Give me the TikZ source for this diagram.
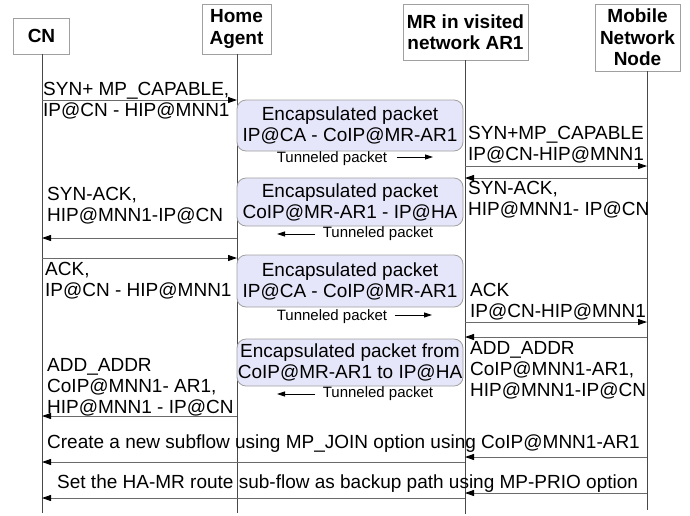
\documentclass[tikz,border=0pt]{standalone}
\usepackage{fontspec}
\setmainfont{Liberation Sans}
\usetikzlibrary{arrows.meta}
\definecolor{boxfill}{HTML}{E6E6FA}
\definecolor{lifegray}{HTML}{484848}
\definecolor{msggray}{HTML}{6A6A6A}
\definecolor{bordergray}{HTML}{A0A0A0}
\tikzset{
 hdr/.style={draw=bordergray, line width=0.8pt, fill=white, font=\fontsize{19}{21.5}\selectfont\bfseries, align=center, inner sep=0pt},
 life/.style={draw=lifegray, line width=1pt},
 msg/.style={draw=msggray, line width=0.9pt, -{Triangle[length=9pt,width=6pt,color=black]}},
 lbl/.style={font=\fontsize{19}{21}\selectfont, align=left, anchor=west, inner sep=0pt, yshift=-1.5pt},
 tunnel/.style={draw=bordergray, line width=0.8pt, fill=boxfill, rounded corners=9pt, minimum width=226pt, align=center, font=\fontsize{19}{21}\selectfont, inner sep=0pt},
 tlbl/.style={font=\fontsize{15}{17}\selectfont, inner sep=0pt},
 tarrow/.style={draw=black, line width=0.8pt, -{Triangle[length=8pt,width=5pt]}},
}
\begin{document}
\begin{tikzpicture}[x=1pt,y=-1pt]
\useasboundingbox (0,0) rectangle (690,515);
% headers
\node[hdr, minimum width=56pt, minimum height=36pt] (cn) at (41.5,36) {CN};
\node[hdr, minimum width=69pt, minimum height=50pt] (ha) at (236.5,29) {Home\\Agent};
\node[hdr, minimum width=125pt, minimum height=56pt] (mr) at (465.5,32) {MR in visited\\network AR1};
\node[hdr, minimum width=85pt, minimum height=67pt] (mn) at (637.5,37.5) {Mobile\\Network\\Node};
% lifelines
\coordinate (cnE) at (42,513);
\coordinate (haE) at (237,513);
\coordinate (mrE) at (465,514);
\coordinate (mnE) at (647,510);
\draw[life] (cn.south -| cnE) -- (cnE);
\draw[life] (ha.south -| haE) -- (haE);
\draw[life] (mr.south -| mrE) -- (mrE);
\draw[life] (mn.south -| mnE) -- (mnE);
% message 1
\coordinate (a1) at (42,100); \coordinate (b1) at (237,100);
\draw[msg] (a1) -- (b1);
\node[lbl] (l1) at (43,99) {SYN+ MP\_CAPABLE,\\IP@CN - HIP@MNN1};
% tunnel 1
\node[tunnel, minimum height=51pt] (t1) at (350,125.5) {Encapsulated packet\\IP@CA - CoIP@MR-AR1};
\node[tlbl] (tl1) at (332,159) {Tunneled packet};
\coordinate (ta1) at (397,157); \coordinate (tb1) at (433,157);
\draw[tarrow] (ta1) -- (tb1);
% message 2
\coordinate (a2) at (465,166); \coordinate (b2) at (647,166);
\draw[msg] (a2) -- (b2);
\node[lbl] (l2) at (468,143.5) {SYN+MP\_CAPABLE\\IP@CN-HIP@MNN1};
% message 3
\coordinate (a3) at (647,178); \coordinate (b3) at (465,178);
\draw[msg] (a3) -- (b3);
\node[lbl] (l3) at (468,198) {SYN-ACK,\\HIP@MNN1- IP@CN};
% tunnel 2
\node[tunnel, minimum height=48pt] (t2) at (350,202) {Encapsulated packet\\CoIP@MR-AR1 - IP@HA};
\node[tlbl] (tl2) at (378,234) {Tunneled packet};
\coordinate (ta2) at (315,234); \coordinate (tb2) at (277,234);
\draw[tarrow] (ta2) -- (tb2);
% message 4
\coordinate (a4) at (237,238); \coordinate (b4) at (42,238);
\draw[msg] (a4) -- (b4);
\node[lbl] (l4) at (47,204) {SYN-ACK,\\HIP@MNN1-IP@CN};
% message 5
\coordinate (a5) at (42,258); \coordinate (b5) at (237,258);
\draw[msg] (a5) -- (b5);
\node[lbl] (l5) at (45,279) {ACK,\\IP@CN - HIP@MNN1};
% tunnel 3
\node[tunnel, minimum height=52pt] (t3) at (350,281) {Encapsulated packet\\IP@CA - CoIP@MR-AR1};
\node[tlbl] (tl3) at (332,317) {Tunneled packet};
\coordinate (ta3) at (395,315); \coordinate (tb3) at (432,315);
\draw[tarrow] (ta3) -- (tb3);
% message 6
\coordinate (a6) at (465,322); \coordinate (b6) at (647,322);
\draw[msg] (a6) -- (b6);
\node[lbl] (l6) at (470,300) {ACK\\IP@CN-HIP@MNN1};
% message 7
\coordinate (a7) at (647,337); \coordinate (b7) at (465,337);
\draw[msg] (a7) -- (b7);
\node[lbl] (l7) at (470,369) {ADD\_ADDR\\CoIP@MNN1-AR1,\\HIP@MNN1-IP@CN};
% tunnel 4
\node[tunnel, minimum height=47pt] (t4) at (350,362.5) {Encapsulated packet from\\CoIP@MR-AR1 to IP@HA};
\node[tlbl] (tl4) at (378,394) {Tunneled packet};
\coordinate (ta4) at (315,394); \coordinate (tb4) at (277,394);
\draw[tarrow] (ta4) -- (tb4);
% message 8
\coordinate (a8) at (237,416); \coordinate (b8) at (42,416);
\draw[msg] (a8) -- (b8);
\node[lbl] (l8) at (47,386) {ADD\_ADDR\\CoIP@MNN1- AR1,\\HIP@MNN1 - IP@CN};
% message 9
\coordinate (a9) at (647,457); \coordinate (b9) at (465,457);
\coordinate (c9) at (465,462); \coordinate (d9) at (42,462);
\draw[msg] (a9) -- (b9);
\draw[msg] (c9) -- (d9);
\node[lbl] (l9) at (47,442) {Create a new subflow using MP\_JOIN option using CoIP@MNN1-AR1};
% message 10
\coordinate (a10) at (647,493); \coordinate (b10) at (465,493);
\coordinate (c10) at (465,498); \coordinate (d10) at (42,498);
\draw[msg] (a10) -- (b10);
\draw[msg] (c10) -- (d10);
\node[lbl] (l10) at (57,482) {Set the HA-MR route sub-flow as backup path using MP-PRIO option};
\end{tikzpicture}
\end{document}
